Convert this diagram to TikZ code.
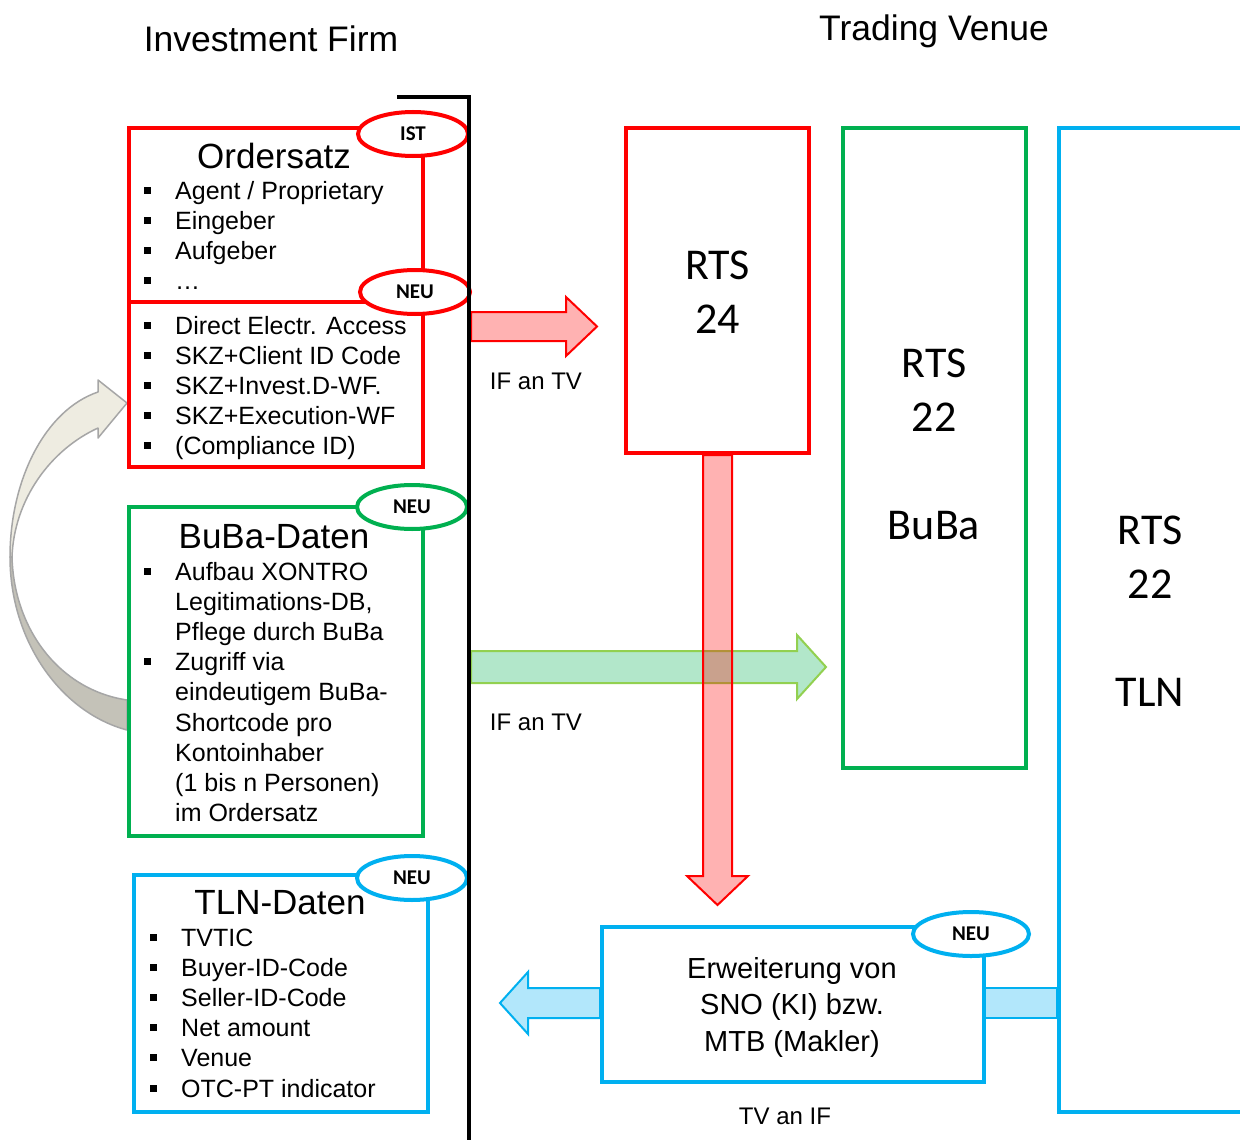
\documentclass[tikz,border=0pt]{standalone}
\usepackage{fontspec}
\setmainfont{Liberation Sans}
\newfontfamily\calfont{Carlito}
\usetikzlibrary{shapes.geometric}
\definecolor{cred}{RGB}{255,0,0}
\definecolor{cgreen}{RGB}{0,176,80}
\definecolor{cblue}{RGB}{0,176,240}
\definecolor{lgreen}{RGB}{146,208,80}
\definecolor{fgreen}{RGB}{178,231,202}
\definecolor{fblue}{RGB}{178,231,251}
\definecolor{glight}{RGB}{238,236,225}
\definecolor{gdark}{RGB}{196,194,184}
\definecolor{gline}{RGB}{166,166,166}
\newcommand\sqbul{\rule[5.5pt]{7pt}{7pt}}
\begin{document}
\begin{tikzpicture}[x=1pt,y=-1pt,
  box/.style={draw, line width=4pt, inner sep=0pt, outer sep=0pt, anchor=north west},
  tag/.style={ellipse, draw, fill=white, line width=4pt, inner sep=0pt,
    minimum width=110pt, minimum height=44pt,
    font=\calfont\bfseries\fontsize{21}{25}\selectfont},
  lst/.style={anchor=base west, inner sep=0pt, font=\fontsize{25}{30.2}\selectfont},
  ttl/.style={anchor=base, inner sep=0pt, font=\fontsize{35}{40}\selectfont},
  rts/.style={align=center, inner sep=0pt, font=\calfont\fontsize{44}{54}\selectfont},
  lab/.style={inner sep=0pt, font=\fontsize{24}{28}\selectfont},
  head/.style={anchor=base, inner sep=0pt, font=\fontsize{35.5}{40}\selectfont},
]
\useasboundingbox (0,0) rectangle (1240,1140);
\fill[white] (0,0) rectangle (1240,1140);
\clip (0,0) rectangle (1240,1140);

% grey curved arrow
\draw[gline, line width=1.5pt, fill=glight, line join=round]
  (98,392) .. controls (45,410) and (10,480) .. (10,557)
  -- (12,557) .. controls (14,500) and (50,450) .. (98,428)
  -- (98,438) -- (127,403) -- (98,380) -- cycle;
\draw[gline, line width=1.5pt, fill=gdark, line join=round]
  (10,557) .. controls (10,640) and (60,712) .. (127,730)
  -- (127,700) .. controls (60,690) and (14,630) .. (12,557) -- cycle;

% green arrow IF -> TV
\draw[lgreen, line width=2pt, fill=fgreen, line join=miter]
  (471,651) -- (797,651) -- (797,635) -- (826,667) -- (797,699) -- (797,683) -- (471,683) -- cycle;
% red arrow IF -> TV
\draw[cred, line width=2pt, fill=cred!30, line join=miter]
  (471,312) -- (566,312) -- (566,297) -- (597,326.5) -- (566,356) -- (566,341) -- (471,341) -- cycle;
% blue arrows
\draw[cblue, line width=2pt, fill=fblue, line join=miter]
  (600,988) -- (528,988) -- (528,972) -- (500,1003) -- (528,1034) -- (528,1018) -- (600,1018) -- cycle;
\draw[cblue, line width=1.5pt, fill=fblue] (985,988) rectangle (1057,1018);

% boxes
\node[box, draw=cred, minimum width=294pt, minimum height=174pt] (ord) at (129,128) {};
\node[box, draw=cred, minimum width=294pt, minimum height=165pt] (ordneu) at (129,302) {};
\node[box, draw=cgreen, minimum width=294pt, minimum height=329pt] (buba) at (129,507) {};
\node[box, draw=cblue, minimum width=294pt, minimum height=237pt] (tln) at (134,875) {};
\node[box, draw=cred, minimum width=183pt, minimum height=325pt] (rts24) at (626,128) {};
\node[box, draw=cgreen, minimum width=183pt, minimum height=640pt] (rts22b) at (843,128) {};
\node[box, draw=cblue, minimum width=260pt, minimum height=984pt] (rts22t) at (1059,128) {};
\node[box, draw=cblue, minimum width=382pt, minimum height=155pt] (erw) at (602,927) {};

% red down arrow (transparent)
\draw[cred, line width=2pt, fill=cred, fill opacity=0.3, line join=miter]
  (703,455) -- (703,876) -- (687,876) -- (717.5,905) -- (748,876) -- (732,876) -- (732,455) -- cycle;

% tags
\node[tag, draw=cred] (ist) at (413,134) {IST};
\node[tag, draw=cred] (neu1) at (415,292) {NEU};
\node[tag, draw=cgreen] (neu2) at (412,507) {NEU};
\node[tag, draw=cblue] (neu3) at (412,878) {NEU};
\node[tag, draw=cblue, minimum width=116pt] (neu4) at (971,934) {NEU};

% bracket
\draw[line width=4pt, line join=miter] (397,97) -- (469,97) -- (469,1145);

% headings
\node[head] (hif) at (271,52) {Investment Firm};
\node[head] (htv) at (934,41) {Trading Venue};

% titles
\node[ttl] (t1) at (274,168) {Ordersatz};
\node[ttl] (t2) at (274,548) {BuBa-Daten};
\node[ttl] (t3) at (280,914) {TLN-Daten};

% lists
\node[lst] (l1) at (144,199) {\begin{tabular}[t]{@{}p{31pt}@{}l@{}}
\sqbul & Agent / Proprietary\\
\sqbul & Eingeber\\
\sqbul & Aufgeber\\
\sqbul & \dots
\end{tabular}};
\node[lst] (l2) at (144,334) {\begin{tabular}[t]{@{}p{31pt}@{}l@{}}
\sqbul & Direct Electr. Access\\
\sqbul & SKZ+Client ID Code\\
\sqbul & SKZ+Invest.D-WF.\\
\sqbul & SKZ+Execution-WF\\
\sqbul & (Compliance ID)
\end{tabular}};
\node[lst] (l3) at (144,580) {\begin{tabular}[t]{@{}p{31pt}@{}l@{}}
\sqbul & Aufbau XONTRO\\
 & Legitimations-DB,\\
 & Pflege durch BuBa\\
\sqbul & Zugriff via\\
 & eindeutigem BuBa-\\
 & Shortcode pro\\
 & Kontoinhaber\\
 & (1 bis n Personen)\\
 & im Ordersatz
\end{tabular}};
\node[lst] (l4) at (150,946) {\begin{tabular}[t]{@{}p{31pt}@{}l@{}}
\sqbul & TVTIC\\
\sqbul & Buyer-ID-Code\\
\sqbul & Seller-ID-Code\\
\sqbul & Net amount\\
\sqbul & Venue\\
\sqbul & OTC-PT indicator
\end{tabular}};

% RTS texts
\node[rts] (x24) at (717.5,292) {RTS\\24};
\node[rts] (x22b) at (934,444) {RTS\\22\\[54pt]BuBa};
\node[rts] (x22t) at (1150,611.5) {RTS\\22\\[54pt]TLN};

% Erweiterung
\node[align=center, inner sep=0pt, font=\fontsize{29}{36.5}\selectfont] (erwt) at (792,1007) {Erweiterung von\\SNO (KI) bzw.\\MTB (Makler)};

% labels
\node[lab] (if1) at (536,381) {IF an TV};
\node[lab] (if2) at (536,722) {IF an TV};
\node[lab] (tvif) at (785,1116) {TV an IF};
\end{tikzpicture}
\end{document}
